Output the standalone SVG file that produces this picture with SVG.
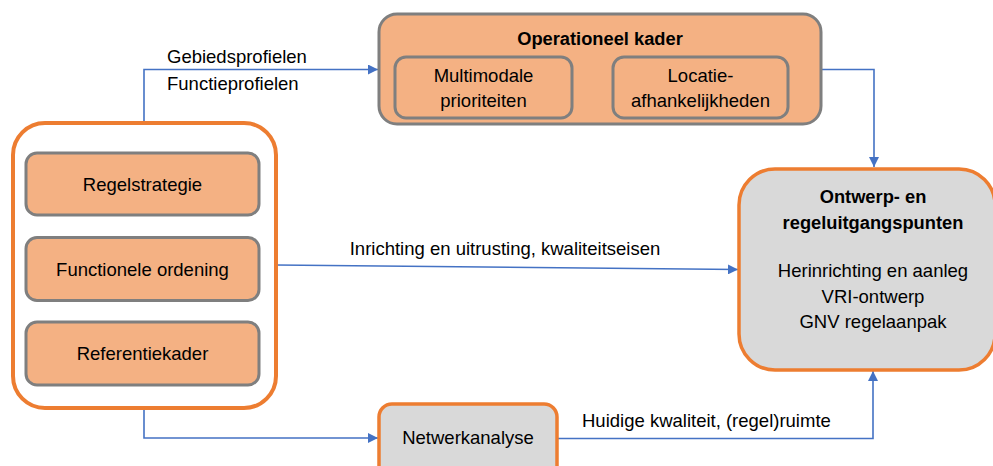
<svg xmlns="http://www.w3.org/2000/svg" width="993" height="466" viewBox="0 0 993 466">
<defs>
<style>
text{font-family:"Liberation Sans",Arial,sans-serif;font-size:18.5px;fill:#000}
.c{text-anchor:middle}
.b{font-weight:bold;font-size:18.3px}
.or{fill:#f4b183;stroke:#7f7f7f;stroke-width:3}
.frame{fill:#fff;stroke:#ed7d31;stroke-width:4}
.gr{fill:#d9d9d9;stroke:#ed7d31;stroke-width:3.5}
.ln{fill:none;stroke:#4472c4;stroke-width:1.6}
</style>
<marker id="ah" viewBox="0 0 10 10" refX="10" refY="5" markerWidth="10" markerHeight="10" markerUnits="userSpaceOnUse" orient="auto">
<path d="M0,0 L10,5 L0,10 z" fill="#4472c4"/>
</marker>
</defs>
<g id="connectors">
<path class="ln" d="M144,122 V69.5 H378" marker-end="url(#ah)"/>
<path class="ln" d="M821,69.5 H874 V167" marker-end="url(#ah)"/>
<path class="ln" d="M276,265 L738,269.5" marker-end="url(#ah)"/>
<path class="ln" d="M144,409 V438 H378" marker-end="url(#ah)"/>
<path class="ln" d="M557,438.5 H873 V371" marker-end="url(#ah)"/>
<text x="167" y="63">Gebiedsprofielen</text>
<text x="167" y="90">Functieprofielen</text>
<text class="c" x="505" y="255">Inrichting en uitrusting, kwaliteitseisen</text>
<text x="582" y="427">Huidige kwaliteit, (regel)ruimte</text>
</g>
<g id="left-group">
<rect class="frame" x="13" y="123" width="263" height="285" rx="32"/>
</g>
<g id="regelstrategie">
<rect class="or" x="26" y="153" width="233" height="62" rx="11"/>
<text class="c" x="142.5" y="191">Regelstrategie</text>
</g>
<g id="functionele-ordening">
<rect class="or" x="26" y="237.5" width="233" height="63" rx="11"/>
<text class="c" x="142.5" y="276">Functionele ordening</text>
</g>
<g id="referentiekader">
<rect class="or" x="26" y="322" width="233" height="63" rx="11"/>
<text class="c" x="142.5" y="360">Referentiekader</text>
</g>
<g id="operationeel-kader">
<rect class="or" x="379" y="14" width="442" height="110" rx="18"/>
<text class="c b" x="600" y="45">Operationeel kader</text>
</g>
<g id="multimodale-prioriteiten">
<rect class="or" x="395" y="57" width="177" height="61" rx="11"/>
<text class="c" x="483.5" y="82">Multimodale</text>
<text class="c" x="483.5" y="107">prioriteiten</text>
</g>
<g id="locatie-afhankelijkheden">
<rect class="or" x="613" y="57" width="175" height="61" rx="11"/>
<text class="c" x="700.5" y="82">Locatie-</text>
<text class="c" x="700.5" y="107">afhankelijkheden</text>
</g>
<g id="ontwerp">
<rect class="gr" x="739" y="169" width="256" height="201" rx="36"/>
<text class="c b" x="873" y="203">Ontwerp- en</text>
<text class="c b" x="873" y="229">regeluitgangspunten</text>
<text class="c" x="873" y="277">Herinrichting en aanleg</text>
<text class="c" x="873" y="303">VRI-ontwerp</text>
<text class="c" x="873" y="328">GNV regelaanpak</text>
</g>
<g id="netwerkanalyse">
<rect class="gr" x="379" y="404" width="178" height="80" rx="13"/>
<text class="c" x="468" y="444">Netwerkanalyse</text>
</g>
</svg>
